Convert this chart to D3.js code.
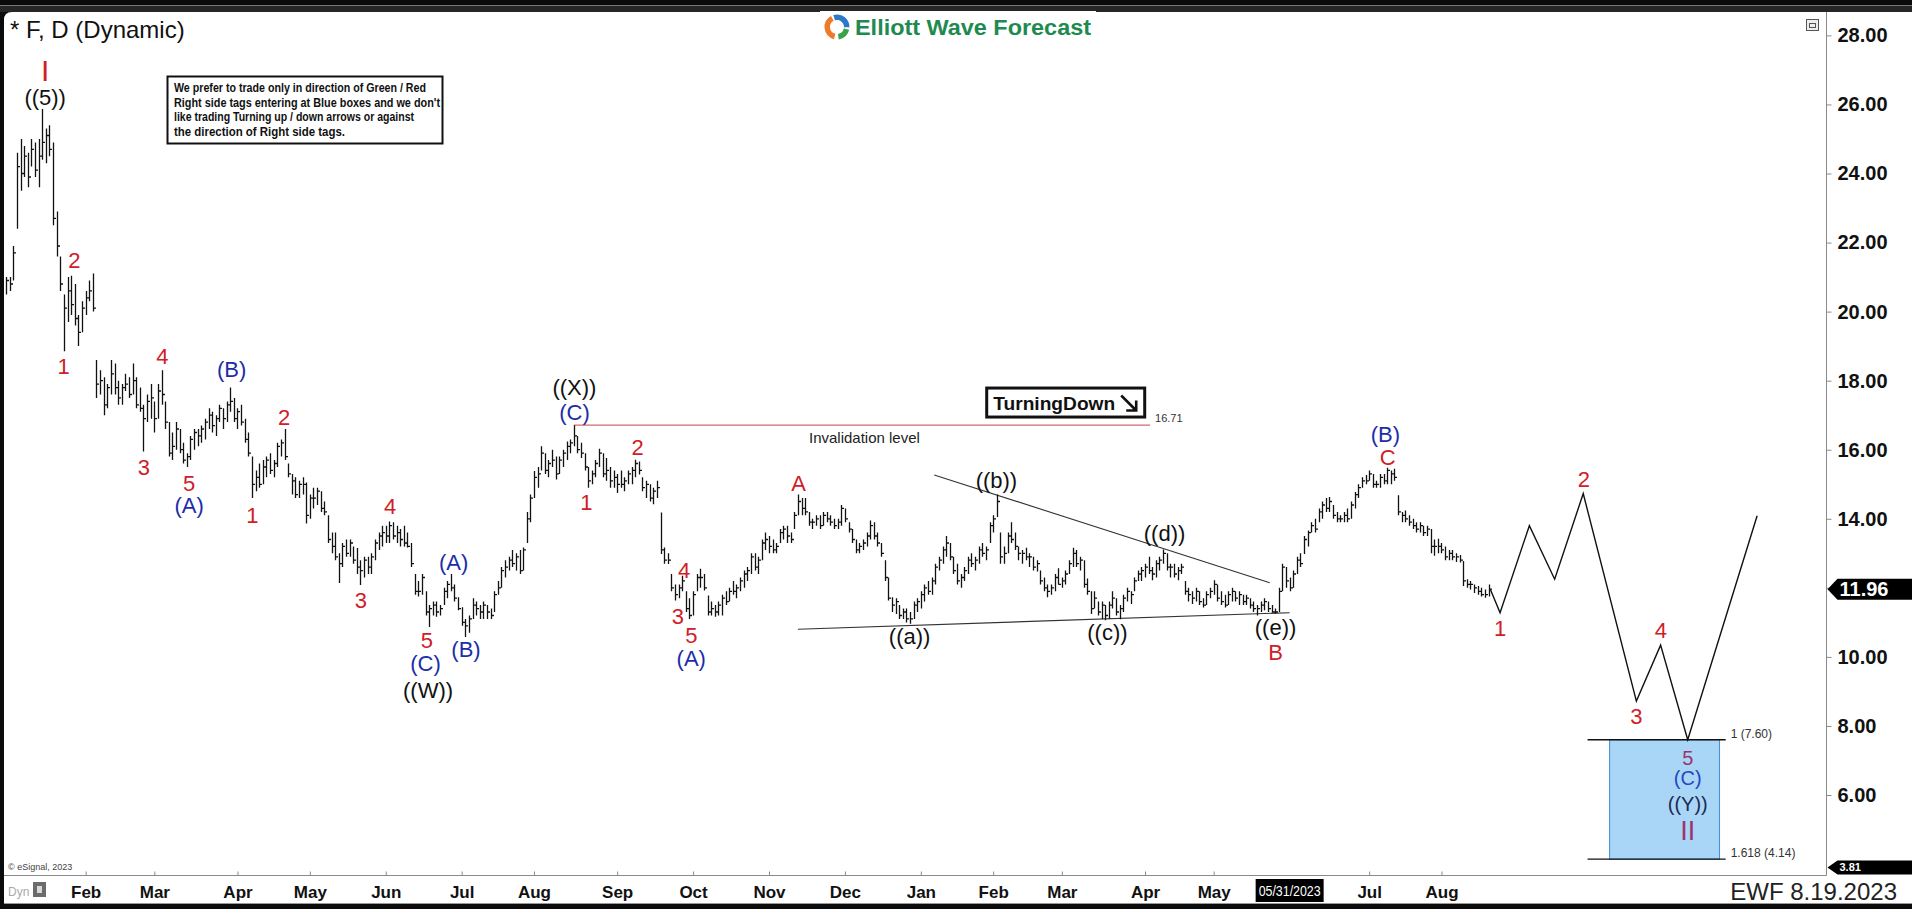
<!DOCTYPE html>
<meta charset="utf-8">
<title>* F, D (Dynamic) - Elliott Wave Forecast</title>
<script src="https://cdn.jsdelivr.net/npm/d3@7/dist/d3.min.js"></script>
<style>
html, body { margin: 0; padding: 0; background: #000; overflow: hidden; }
svg { display: block; }
text { font-family: "Liberation Sans", Arial, Helvetica, sans-serif; }
.axis .domain { display: none; }
.axis line { stroke: #8a8a8a; }
.xaxis text { font-size: 17px; font-weight: bold; fill: #111; }
.yaxis text { font-size: 20px; font-weight: bold; fill: #111; }
</style>
<body>
<svg width="1912" height="909"></svg>
<script>

// daily bars [high, low, close], one array per month
var dec21 = [[21.0,20.5,20.9],[21.0,20.6,20.8]];
var jan22 = [[21.9,20.9,21.7],[24.6,22.4,24.2],[25.0,23.5,24.0],[24.8,23.9,24.5],[24.6,23.6,23.9],
  [25.0,24.2,24.7],[24.9,23.9,24.1],[25.0,23.6,24.5],[25.87,24.4,24.9],[25.3,24.3,25.1],
  [25.4,24.5,24.7],[24.9,22.5,22.7],[22.9,21.6,21.9],[21.6,20.6,20.8],[20.5,18.85,20.1],
  [21.0,19.7,20.6],[21.04,19.9,20.2],[20.8,19.6,19.8],[19.9,19.0,19.4],[20.3,19.4,20.1]];
var feb22 = [[20.6,19.9,20.4],[20.9,20.3,20.6],[21.1,20.0,20.1],[18.6,17.5,17.9],[18.3,17.6,18.0],
  [18.1,17.0,17.3],[17.9,17.2,17.8],[18.6,17.6,18.2],[18.5,17.6,17.8],[18.0,17.3,17.5],
  [17.9,17.3,17.8],[18.2,17.7,17.9],[18.1,17.5,17.6],[18.5,17.6,18.0],[18.1,17.2,17.3],
  [17.8,17.1,17.2],[17.3,15.95,16.9],[17.6,16.8,17.4],[17.9,16.9,17.5]];
var mar22 = [[17.4,16.5,16.9],[17.9,16.9,17.7],[18.3,17.3,17.6],[17.4,16.6,16.8],[16.8,15.8,15.9],
  [16.5,15.7,16.1],[16.8,16.0,16.6],[16.6,15.9,16.0],[16.2,15.6,15.7],[15.9,15.5,15.8],
  [16.4,15.7,16.3],[16.6,16.0,16.5],[16.6,16.1,16.4],[16.7,16.2,16.6],[16.9,16.3,16.8],
  [17.2,16.6,17.0],[17.1,16.5,16.7],[17.0,16.4,16.9],[17.3,16.8,17.2],[17.2,16.6,16.9],
  [17.4,16.8,17.3],[17.8,17.1,17.4],[17.5,16.8,16.9]];
var apr22 = [[17.2,16.6,17.1],[17.3,16.7,16.8],[16.9,16.2,16.3],[16.5,15.8,15.9],[15.8,14.6,15.0],
  [15.4,14.8,15.2],[15.6,14.9,15.0],[15.7,15.0,15.5],[15.8,15.2,15.7],[15.9,15.3,15.4],
  [15.7,15.2,15.6],[16.2,15.5,16.1],[16.3,15.8,16.2],[16.6,15.7,15.8],[15.6,15.2,15.3],
  [15.3,14.7,15.1],[15.2,14.6,14.7],[15.1,14.6,15.0],[15.2,14.7,15.0],[15.05,13.86,14.1]];
var may22 = [[14.7,14.0,14.6],[14.9,14.3,14.6],[14.9,14.4,14.8],[14.8,14.2,14.3],[14.5,14.1,14.2],
  [14.1,13.3,13.4],[13.6,13.0,13.2],[13.6,12.8,12.9],[13.0,12.14,12.7],[13.3,12.6,13.2],
  [13.4,12.9,13.0],[13.4,12.9,13.3],[13.2,12.7,12.8],[13.15,12.4,12.6],[12.8,12.08,12.5],
  [12.9,12.3,12.8],[12.9,12.4,12.6],[13.0,12.4,12.9],[13.4,12.8,13.3],[13.6,13.1,13.5],
  [13.8,13.2,13.6]];
var jun22 = [[13.8,13.3,13.5],[13.92,13.3,13.8],[13.9,13.4,13.5],[13.8,13.3,13.6],[13.7,13.2,13.4],
  [13.8,13.2,13.3],[13.6,13.17,13.2],[13.3,12.6,12.7],[12.4,11.8,11.9],[12.2,11.75,11.9],
  [12.4,11.8,12.3],[11.9,11.2,11.3],[11.5,10.87,11.4],[11.6,11.2,11.5],[11.6,11.16,11.3],
  [11.5,11.2,11.4],[12.0,11.5,11.9],[12.2,11.7,12.1],[12.4,11.9,12.0],[12.1,11.6,11.7],
  [11.73,11.35,11.4]];
var jul22 = [[11.44,10.9,11.0],[11.1,10.58,10.9],[11.2,10.7,11.1],[11.7,11.1,11.5],[11.6,11.2,11.4],
  [11.5,11.1,11.3],[11.6,11.1,11.5],[11.5,11.1,11.3],[11.4,11.1,11.2],[11.9,11.3,11.8],
  [12.2,11.8,12.0],[12.6,12.0,12.5],[12.8,12.3,12.6],[12.9,12.5,12.8],[13.1,12.6,12.7],
  [13.0,12.5,12.9],[13.1,12.4,12.5],[13.17,12.5,13.1],[14.2,13.3,14.0],[14.7,13.9,14.6]];
var aug22 = [[15.38,14.6,15.2],[15.5,14.9,15.3],[16.1,15.4,15.9],[15.9,15.3,15.4],[15.7,15.2,15.6],
  [16.0,15.5,15.7],[15.8,15.14,15.3],[15.8,15.3,15.7],[16.0,15.5,15.9],[16.24,15.7,16.1],
  [16.3,15.9,16.2],[16.71,16.1,16.4],[16.4,15.9,16.0],[16.2,15.76,15.9],[15.9,15.4,15.5],
  [15.5,14.9,15.1],[15.4,15.0,15.3],[15.7,15.2,15.6],[16.03,15.5,15.9],[15.9,15.2,15.3],
  [15.76,15.1,15.4],[15.5,14.9,15.1],[15.4,14.9,15.2]];
var sep22 = [[15.3,14.75,15.0],[15.4,14.9,15.0],[15.2,14.8,15.1],[15.4,15.0,15.3],[15.5,15.0,15.4],
  [15.71,15.2,15.6],[15.66,15.28,15.4],[15.2,14.8,14.9],[15.1,14.6,15.0],[15.0,14.5,14.6],
  [14.9,14.42,14.8],[15.1,14.6,14.9],[14.18,12.98,13.1],[13.17,12.7,12.8],[13.0,12.69,12.8],
  [12.4,11.9,12.0],[12.1,11.63,11.8],[12.1,11.7,12.0],[12.35,11.9,12.2],[11.9,11.3,11.4],
  [11.7,11.1,11.2]];
var oct22 = [[11.9,11.2,11.8],[12.4,11.9,12.3],[12.55,12.0,12.3],[12.4,11.92,12.0],[11.78,11.2,11.3],
  [11.6,11.2,11.4],[11.5,11.16,11.3],[11.6,11.2,11.5],[11.8,11.2,11.7],[11.9,11.5,11.6],
  [12.0,11.6,11.9],[12.2,11.8,11.9],[12.1,11.7,12.0],[12.3,11.9,12.2],[12.5,12.0,12.4],
  [12.6,12.2,12.5],[13.0,12.4,12.9],[13.0,12.5,12.6],[12.9,12.4,12.8],[13.4,12.8,13.3],
  [13.6,13.1,13.4]];
var nov22 = [[13.5,13.0,13.2],[13.4,13.0,13.1],[13.3,13.0,13.2],[13.7,13.3,13.6],[13.8,13.4,13.7],
  [13.8,13.3,13.5],[13.6,13.3,13.4],[14.2,13.7,14.1],[14.7,14.1,14.5],[14.6,14.1,14.3],
  [14.6,14.1,14.2],[14.2,13.8,13.9],[14.0,13.7,13.9],[14.1,13.8,14.0],[14.1,13.7,13.8],
  [14.2,13.8,14.1],[14.2,13.9,14.0],[14.1,13.8,13.9],[14.0,13.7,13.8],[14.0,13.7,13.9],
  [14.4,13.8,14.3]];
var dec22 = [[14.3,13.9,14.0],[13.9,13.6,13.7],[13.7,13.3,13.4],[13.4,13.0,13.1],[13.3,13.0,13.2],
  [13.4,13.1,13.3],[13.6,13.2,13.5],[13.95,13.4,13.8],[13.9,13.4,13.5],[13.6,13.2,13.3],
  [13.3,12.9,13.0],[12.8,12.2,12.3],[12.3,11.63,11.7],[11.73,11.3,11.5],[11.7,11.24,11.6],
  [11.5,11.1,11.2],[11.4,11.1,11.3],[11.4,11.0,11.1],[11.3,10.96,11.1],[11.6,11.1,11.5],
  [11.7,11.3,11.6]];
var jan23 = [[11.9,11.4,11.8],[12.1,11.6,12.0],[12.2,11.8,11.9],[12.3,11.8,12.2],[12.7,12.1,12.6],
  [12.9,12.5,12.8],[13.2,12.7,13.1],[13.5,12.9,13.3],[13.3,12.8,12.9],[12.9,12.4,12.5],
  [12.7,12.1,12.2],[12.4,12.0,12.3],[12.6,12.2,12.5],[12.9,12.4,12.8],[13.0,12.6,12.7],
  [12.9,12.5,12.8],[13.2,12.7,13.1],[13.3,12.9,13.0],[13.2,12.8,13.1],[13.9,13.3,13.8]];
var feb23 = [[14.1,13.6,14.0],[14.7,14.05,14.5],[13.6,12.7,12.9],[13.2,12.7,13.0],[13.6,13.0,13.5],
  [13.9,13.3,13.4],[13.6,13.1,13.2],[13.2,12.8,13.0],[13.1,12.7,13.0],[13.16,12.8,12.9],
  [13.0,12.6,12.9],[12.9,12.5,12.6],[12.8,12.47,12.7],[12.5,12.1,12.2],[12.3,11.9,12.0],
  [12.1,11.73,11.9],[12.1,11.8,12.0],[12.4,11.9,12.3],[12.57,12.1,12.1]];
var mar23 = [[12.3,12.0,12.2],[12.5,12.1,12.4],[12.8,12.4,12.7],[13.16,12.6,13.0],[13.1,12.6,12.7],
  [12.9,12.5,12.8],[12.8,12.0,12.1],[12.27,11.8,11.9],[11.9,11.24,11.4],[11.9,11.4,11.7],
  [11.6,11.2,11.3],[11.6,11.1,11.5],[11.5,11.06,11.2],[11.6,11.1,11.5],[11.9,11.4,11.7],
  [11.7,11.2,11.3],[11.5,11.09,11.4],[11.8,11.3,11.7],[12.0,11.6,11.9],[11.9,11.53,11.8],
  [12.3,11.9,12.2],[12.5,12.2,12.4],[12.6,12.2,12.5]];
var apr23 = [[12.7,12.3,12.6],[12.9,12.4,12.5],[12.6,12.22,12.4],[12.8,12.3,12.7],[12.9,12.5,12.8],
  [13.11,12.7,13.0],[13.0,12.5,12.6],[12.7,12.3,12.6],[12.7,12.3,12.4],[12.6,12.22,12.5],
  [12.7,12.4,12.6],[12.2,11.8,11.9],[12.0,11.6,11.8],[11.9,11.53,11.7],[12.0,11.6,11.9],
  [11.9,11.5,11.6],[11.7,11.43,11.5],[11.9,11.5,11.8],[12.0,11.7,11.9]];
var may23 = [[12.22,11.8,12.1],[12.1,11.6,11.7],[11.9,11.5,11.6],[11.8,11.43,11.5],[11.9,11.5,11.8],
  [12.0,11.6,11.9],[11.9,11.6,11.7],[11.9,11.5,11.8],[11.8,11.5,11.6],[11.8,11.5,11.7],
  [11.7,11.4,11.5],[11.6,11.3,11.4],[11.5,11.2,11.4],[11.6,11.3,11.5],[11.7,11.35,11.6],
  [11.6,11.3,11.4],[11.5,11.28,11.3],[11.4,11.26,11.3],[12.0,11.3,11.9],[12.7,11.9,12.6],
  [12.6,12.0,12.2],[12.3,11.9,12.0]];
var jun23 = [[12.5,12.0,12.4],[12.9,12.4,12.8],[13.0,12.6,12.7],[13.5,12.98,13.4],[13.66,13.2,13.6],
  [13.9,13.6,13.8],[14.0,13.6,13.7],[14.3,13.9,14.2],[14.5,14.0,14.4],[14.6,14.2,14.3],
  [14.63,14.2,14.5],[14.4,14.0,14.1],[14.2,13.9,14.0],[14.1,13.9,14.0],[14.2,13.9,14.1],
  [14.3,13.9,14.0],[14.5,14.0,14.4],[14.78,14.3,14.7],[15.0,14.6,14.9],[15.2,14.9,15.1],
  [15.27,15.0,15.1]];
var jul23 = [[15.4,15.1,15.3],[15.3,14.9,15.0],[15.1,14.9,15.0],[15.3,14.9,15.2],[15.3,15.0,15.1],
  [15.48,15.0,15.4],[15.4,15.0,15.3],[15.45,15.1,15.2],[14.68,14.1,14.2],[14.2,13.9,14.1],
  [14.24,13.9,14.0],[14.1,13.8,13.9],[14.0,13.7,13.8],[13.9,13.6,13.7],[13.9,13.6,13.8],
  [13.8,13.5,13.6],[13.8,13.5,13.7],[13.7,13.0,13.2],[13.4,12.93,13.2],[13.42,13.0,13.2]];
var aug23 = [[13.3,13.0,13.1],[13.2,12.8,12.9],[13.1,12.8,13.0],[13.1,12.8,12.9],[13.0,12.75,12.9],
  [12.95,12.73,12.8],[12.78,12.05,12.2],[12.25,12.0,12.1],[12.2,11.95,12.1],[12.1,11.85,12.0],
  [12.05,11.8,11.9],[12.0,11.75,11.8],[11.95,11.71,11.8],[12.1,11.75,11.96]];

// month blocks and their axis labels ("" = not shown)
var monthBars   = [dec21, jan22, feb22, mar22, apr22, may22, jun22, jul22, aug22, sep22, oct22, nov22, dec22,
                   jan23, feb23, mar23, apr23, may23, jun23, jul23, aug23];
var monthLabels = ["", "", "Feb", "Mar", "Apr", "May", "Jun", "Jul", "Aug", "Sep", "Oct", "Nov", "Dec",
                   "Jan", "Feb", "Mar", "Apr", "May", "", "Jul", "Aug"];
var cursorText = "05/31/2023";

var priceTicks = [6, 8, 10, 12, 14, 16, 18, 20, 22, 24, 26, 28];
var lastPrice = 11.96, lowTag = 3.81;

// forecast path (bar index, price)
var projIdx   = [410.5, 413.2, 421.3, 428.3, 436.2, 450.9, 457.6, 465.1, 484.3];
var projPrice = [11.96, 11.28, 13.8, 12.25, 14.73, 8.72, 10.34, 7.60, 14.09];

// triangle trendlines and invalidation level
var triUpper = [[256.7, 15.27], [349.5, 12.15]];
var triLower = [[219.0, 10.80], [355.0, 11.28]];
var invalid = {from: 157, to: 316.4, price: 16.71};

// blue target box
var boxIdx = [443.5, 473.9], boxLineIdx = [437.4, 475.6];
var boxTop = 7.60, boxBottom = 4.14;

// wave labels: text, bar index, price, colour key
var waveLabels = [
  ["I", 10.8, 26.98, "r"], ["((5))", 10.8, 26.20, "k"],
  ["2", 18.9, 21.50, "r"], ["1", 15.9, 18.43, "r"],
  ["4", 43.2, 18.71, "r"], ["(B)", 62.4, 18.33, "b"], ["3", 38.1, 15.50, "r"],
  ["5", 50.6, 15.04, "r"], ["(A)", 50.6, 14.41, "b"],
  ["2", 76.9, 16.95, "r"], ["1", 68.1, 14.12, "r"], ["4", 106.2, 14.37, "r"], ["3", 98.1, 11.65, "r"],
  ["(A)", 123.8, 12.75, "b"], ["5", 116.4, 10.49, "r"], ["(C)", 116.0, 9.82, "b"], ["((W))", 116.7, 9.04, "k"],
  ["(B)", 127.2, 10.24, "b"],
  ["((X))", 157.2, 17.80, "k"], ["(C)", 157.2, 17.09, "b"],
  ["1", 160.5, 14.48, "r"], ["2", 174.7, 16.07, "r"], ["4", 187.5, 12.50, "r"], ["3", 185.8, 11.19, "r"],
  ["5", 189.5, 10.63, "r"], ["(A)", 189.5, 9.96, "b"],
  ["A", 219.2, 15.04, "r"], ["((a))", 249.9, 10.59, "k"], ["((b))", 273.9, 15.11, "k"],
  ["((c))", 304.6, 10.73, "k"], ["((d))", 320.4, 13.59, "k"], ["((e))", 351.1, 10.87, "k"],
  ["B", 351.1, 10.13, "r"], ["(B)", 381.5, 16.45, "b"], ["C", 382.1, 15.78, "r"],
  ["1", 413.2, 10.84, "r"], ["2", 436.4, 15.15, "r"], ["3", 450.9, 8.30, "r"], ["4", 457.7, 10.77, "r"],
  ["5", 465.1, 7.08, "p"], ["(C)", 465.1, 6.50, "c"], ["((Y))", 465.1, 5.74, "n"], ["II", 465.1, 4.98, "p"]
];
var labelColor = {r: "#cf2027", b: "#1c2da8", k: "#111", p: "#9c3470", c: "#2347bf", n: "#1c2b55"};

var noteLines = ["We prefer to trade only in direction of Green / Red",
                 "Right side tags entering at Blue boxes and we don't",
                 "like trading Turning up / down arrows or against",
                 "the direction of Right side tags."];

// ---------------------------------------------------------------

var svg = d3.select("svg");
var W = 1912, H = 909, plotRight = 1826.5, plotBottom = 875.5;

var bars = [];
var blockStart = [], monthStart = [], monthName = [];
monthBars.forEach(function(m, k) {
  blockStart.push(bars.length);
  if (monthLabels[k]) { monthStart.push(bars.length); monthName.push(monthLabels[k]); }
  m.forEach(function(b) { bars.push({hi: b[0], lo: b[1], cl: b[2]}); });
});

var x = d3.scaleLinear().domain([0, 410]).range([6.1, 1488.5]);
var y = d3.scaleLinear().domain([6, 28]).range([795, 35.4]);

// frame
svg.append("rect").attr("width", W).attr("height", H).attr("fill", "#0b0b0b");
svg.append("rect").attr("x", 0).attr("y", 6).attr("width", W).attr("height", 6).attr("fill", "#262626");
svg.append("line").attr("x1", 0).attr("x2", W).attr("y1", 5.5).attr("y2", 5.5).attr("stroke", "#777");
svg.append("path").attr("d", "M4,20 Q4,12 12,12 H" + W + " V904 H4 Z").attr("fill", "#fff");
svg.append("line").attr("x1", 4).attr("x2", W).attr("y1", 903.5).attr("y2", 903.5).attr("stroke", "#999");

// plot borders
svg.append("line").attr("x1", plotRight).attr("x2", plotRight).attr("y1", 12).attr("y2", plotBottom)
  .attr("stroke", "#8a8a8a");
svg.append("line").attr("x1", 4).attr("x2", plotRight).attr("y1", plotBottom).attr("y2", plotBottom)
  .attr("stroke", "#8a8a8a");

// title
svg.append("text").attr("x", 10).attr("y", 38).attr("font-size", 24).attr("fill", "#111")
  .text("* F, D (Dynamic)");

// logo
var logo = svg.append("g");
logo.append("rect").attr("x", 820).attr("y", 11).attr("width", 276).attr("height", 31).attr("fill", "#fff");
var arc = d3.arc().innerRadius(7).outerRadius(12.5);
[[-2.9, -0.5, "#ee7b2a"], [-0.3, 1.6, "#2c79c9"], [1.8, 3.0, "#3aa24a"]].forEach(function(a) {
  logo.append("path").attr("transform", "translate(837,27)")
    .attr("d", arc({startAngle: a[0], endAngle: a[1]})).attr("fill", a[2]);
});
logo.append("text").attr("x", 855).attr("y", 35).attr("font-size", 22).attr("font-weight", "bold")
  .attr("fill", "#1e8a50").attr("textLength", 236).attr("lengthAdjust", "spacingAndGlyphs")
  .text("Elliott Wave Forecast");

// small window icon, top right
svg.append("rect").attr("x", 1806.5).attr("y", 19.5).attr("width", 12).attr("height", 11)
  .attr("fill", "#eee").attr("stroke", "#555");
svg.append("rect").attr("x", 1809.5).attr("y", 23.5).attr("width", 6).attr("height", 4)
  .attr("fill", "none").attr("stroke", "#555");

// note box
var note = svg.append("g");
note.append("rect").attr("x", 167.5).attr("y", 76.5).attr("width", 275).attr("height", 67)
  .attr("fill", "#fff").attr("stroke", "#111").attr("stroke-width", 2);
var noteWidths = [252, 266, 240, 171];
noteLines.forEach(function(t, k) {
  note.append("text").attr("x", 174).attr("y", 92 + k * 14.7).attr("font-size", 12)
    .attr("font-weight", "bold").attr("fill", "#111")
    .attr("textLength", noteWidths[k]).attr("lengthAdjust", "spacingAndGlyphs").text(t);
});

// axes
var xAxis = d3.axisBottom(x).tickValues(monthStart)
  .tickFormat(function(d, k) { return monthName[k]; })
  .tickSize(-4).tickPadding(10);
svg.append("g").attr("class", "axis xaxis").attr("transform", "translate(0," + plotBottom + ")").call(xAxis);

var yAxis = d3.axisRight(y).tickValues(priceTicks).tickFormat(d3.format(".2f")).tickSize(5).tickPadding(6);
svg.append("g").attr("class", "axis yaxis").attr("transform", "translate(" + plotRight + ",0)").call(yAxis);

// invalidation level
svg.append("line").attr("x1", x(invalid.from)).attr("x2", x(invalid.to))
  .attr("y1", y(invalid.price)).attr("y2", y(invalid.price))
  .attr("stroke", "#d36a6a").attr("stroke-width", 1.2);
svg.append("text").attr("x", x(invalid.to) + 5).attr("y", y(invalid.price) - 3)
  .attr("font-size", 11).attr("fill", "#333").text(invalid.price.toFixed(2));
svg.append("text").attr("x", x(237.4)).attr("y", y(16.35) + 5).attr("text-anchor", "middle")
  .attr("font-size", 15).attr("fill", "#222").text("Invalidation level");

// TurningDown tag
var td = svg.append("g").attr("transform", "translate(" + x(270.8) + "," + y(17.83) + ")");
td.append("rect").attr("x", 1.5).attr("y", 1.5).attr("width", 158).attr("height", 29)
  .attr("fill", "#fff").attr("stroke", "#111").attr("stroke-width", 3);
td.append("text").attr("x", 8).attr("y", 23).attr("font-size", 19).attr("font-weight", "bold")
  .attr("fill", "#111").attr("textLength", 122).attr("lengthAdjust", "spacingAndGlyphs").text("TurningDown");
td.append("path").attr("d", "M136,9 L151,24 M141,24 H151 V14")
  .attr("fill", "none").attr("stroke", "#111").attr("stroke-width", 2.6);

// triangle lines
var line = d3.line().x(function(d) { return x(d[0]); }).y(function(d) { return y(d[1]); });
[triUpper, triLower].forEach(function(t) {
  svg.append("path").attr("d", line(t)).attr("fill", "none").attr("stroke", "#333").attr("stroke-width", 1.1);
});

// OHLC bars
var barPath = bars.map(function(d, i) {
  var px = Math.round(x(i)) + 0.5;
  return "M" + px + "," + y(d.hi).toFixed(1) + "V" + y(d.lo).toFixed(1) +
         "M" + px + "," + y(d.cl).toFixed(1) + "H" + (px + 2.5);
}).join("");
svg.append("path").attr("d", barPath).attr("fill", "none").attr("stroke", "#111").attr("stroke-width", 1.3);

// blue target box
svg.append("rect").attr("x", x(boxIdx[0])).attr("y", y(boxTop))
  .attr("width", x(boxIdx[1]) - x(boxIdx[0])).attr("height", y(boxBottom) - y(boxTop))
  .attr("fill", "#a9d6f6").attr("stroke", "#3f8fd3").attr("stroke-width", 1);
[[boxTop, "1 (7.60)"], [boxBottom, "1.618 (4.14)"]].forEach(function(b) {
  svg.append("line").attr("x1", x(boxLineIdx[0])).attr("x2", x(boxLineIdx[1]))
    .attr("y1", y(b[0])).attr("y2", y(b[0])).attr("stroke", "#111").attr("stroke-width", 1.3);
  svg.append("text").attr("x", x(boxLineIdx[1]) + 5).attr("y", y(b[0]) - 2)
    .attr("font-size", 12).attr("fill", "#333").text(b[1]);
});

// forecast path
svg.append("path").attr("d", line(d3.zip(projIdx, projPrice)))
  .attr("fill", "none").attr("stroke", "#111").attr("stroke-width", 1.4);

// wave labels
svg.append("g").selectAll("text").data(waveLabels).join("text")
  .attr("x", function(d) { return x(d[1]); })
  .attr("y", function(d) { return y(d[2]); })
  .attr("dy", "0.36em")
  .attr("text-anchor", "middle")
  .attr("font-size", function(d) {
    if (/^I+$/.test(d[0])) return d[2] < 6 ? 27 : 30;
    return d[2] < 7.5 ? 20 : 22;
  })
  .attr("fill", function(d) { return labelColor[d[3]]; })
  .text(function(d) { return d[0]; });

// price tags on the right axis
function priceTag(p, h, fs, yy) {
  var cy = yy === undefined ? y(p) : yy;
  svg.append("path")
    .attr("d", "M" + (plotRight + 1) + "," + cy + " L" + (plotRight + 11) + "," + (cy - h / 2) +
               " H" + W + " V" + (cy + h / 2) + " H" + (plotRight + 11) + " Z")
    .attr("fill", "#000");
  svg.append("text").attr("x", plotRight + 13).attr("y", cy).attr("dy", "0.36em")
    .attr("font-size", fs).attr("font-weight", "bold").attr("fill", "#fff").text(p.toFixed(2));
}
priceTag(lastPrice, 21, 20);
priceTag(lowTag, 14, 11, Math.min(y(lowTag), plotBottom - 8));

// date cursor box on the last day of May 2023
var cursorIdx = blockStart[monthBars.indexOf(jun23)] - 1;
svg.append("rect").attr("x", x(cursorIdx) - 34).attr("y", 879).attr("width", 68).attr("height", 23).attr("fill", "#000");
svg.append("text").attr("x", x(cursorIdx)).attr("y", 896).attr("text-anchor", "middle")
  .attr("font-size", 15).attr("fill", "#fff").attr("textLength", 62).attr("lengthAdjust", "spacingAndGlyphs")
  .text(cursorText);

// bottom-left marks
svg.append("text").attr("x", 8).attr("y", 870).attr("font-size", 9).attr("fill", "#444").text("\u00a9 eSignal, 2023");
svg.append("text").attr("x", 8).attr("y", 896).attr("font-size", 12).attr("fill", "#aaa").text("Dyn");
svg.append("rect").attr("x", 33).attr("y", 882).attr("width", 13).attr("height", 15).attr("fill", "#6b6b6b");
svg.append("rect").attr("x", 37).attr("y", 886).attr("width", 5).attr("height", 7).attr("fill", "#d8d8d8");

// stamp
svg.append("text").attr("x", 1897).attr("y", 900).attr("text-anchor", "end")
  .attr("font-size", 24).attr("fill", "#222").text("EWF 8.19.2023");

</script>
</body>
